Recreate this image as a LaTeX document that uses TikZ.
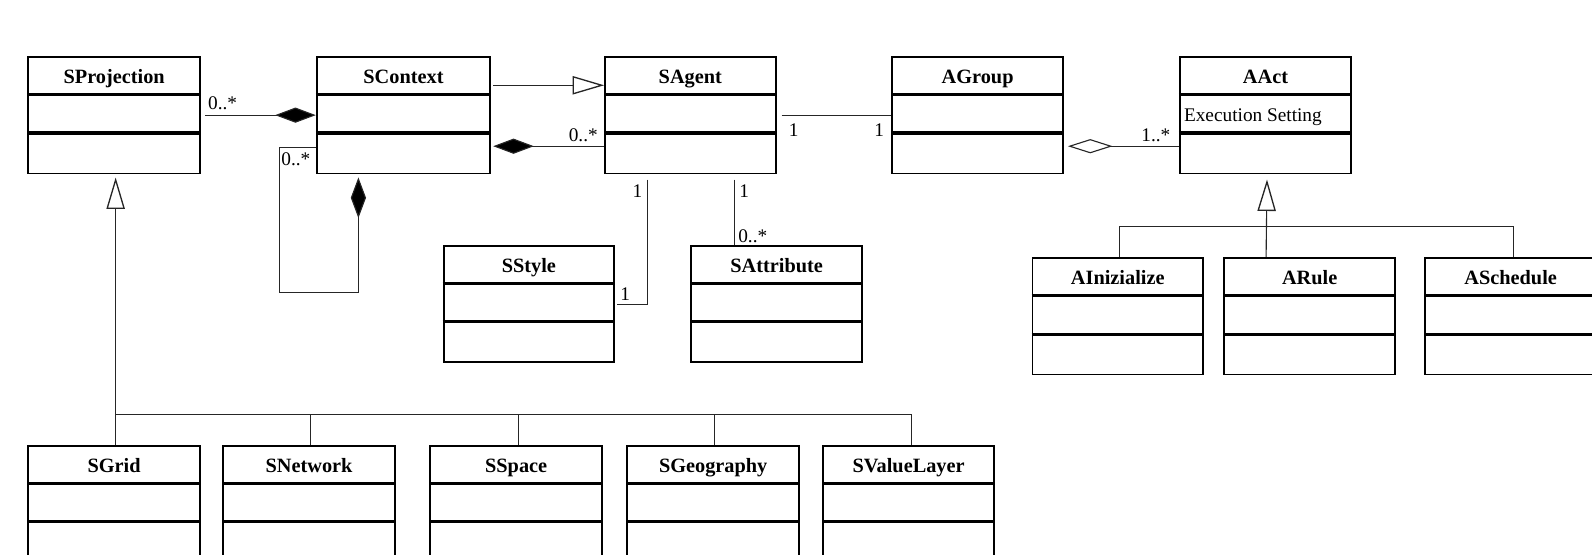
\documentclass[tikz,border=0pt]{standalone}
\usepackage{fontspec}
\setmainfont{Liberation Serif}
\usetikzlibrary{arrows.meta,calc}
\tikzset{
  x=1pt, y=-1pt,
  cls/.style={draw, line width=1.8pt, inner sep=0pt, minimum height=115pt, anchor=north west, fill=white},
  divl/.style={line width=3pt, line cap=butt},
  ttl/.style={font=\fontsize{20}{24}\selectfont\bfseries, inner sep=0pt, anchor=base},
  lbl/.style={font=\fontsize{19}{22}\selectfont, inner sep=0pt, anchor=base west},
  conn/.style={line width=1.1pt, black!85},
  comp/.style={conn, -{Diamond[length=40pt,width=15pt,fill=black]}},
  aggr/.style={conn, -{Diamond[open,length=44pt,width=14pt,fill=white]}},
  gen/.style={conn, -{Triangle[open,length=31pt,width=18pt,fill=white,line width=1.3pt]}}
}
\newcommand\umlclass[5]{%
  \node[cls, minimum width=#4pt] (#1) at (#2,#3) {};
  \node[ttl] (#1-t) at ($(#1.north)+(0,27)$) {#5};
  \draw[divl] ($(#1.north west)+(0,38)$) -- ($(#1.north east)+(0,38)$);
  \draw[divl] ($(#1.north west)+(0,76)$) -- ($(#1.north east)+(0,76)$);
}
\begin{document}
\begin{tikzpicture}
\useasboundingbox (0,0) rectangle (1568,546);
% top row
\umlclass{sproj}{27}{55}{169}{SProjection}
\umlclass{sctx}{311}{55}{171}{SContext}
\umlclass{sagent}{595}{55}{168}{SAgent}
\umlclass{agroup}{878}{55}{168}{AGroup}
\umlclass{aact}{1161}{55}{169}{AAct}
% middle
\umlclass{sstyle}{436}{241}{168}{SStyle}
\umlclass{sattr}{680}{241}{168}{SAttribute}
\umlclass{ainit}{1016}{253}{168}{AInizialize}
\umlclass{arule}{1205}{253}{168}{ARule}
\umlclass{asched}{1403}{253}{168}{ASchedule}
% bottom
\umlclass{sgrid}{27}{438}{169}{SGrid}
\umlclass{snet}{219}{438}{169}{SNetwork}
\umlclass{sspace}{423}{438}{169}{SSpace}
\umlclass{sgeo}{617}{438}{169}{SGeography}
\umlclass{svl}{810}{438}{168}{SValueLayer}

\node[lbl] (exec) at ($(aact.north west)+(5,65)$) {Execution Setting};

% SContext -> SAgent generalization
\draw[gen] ($(sctx.north east)+(2,29)$) -- ($(sagent.north west)+(0,29)$);
% SProjection - SContext composition
\draw[comp] ($(sproj.east)+(4,0)$) -- (sctx.west);
\node[lbl] (l1) at ($(sproj.north east)+(7,53)$) {0..*};
% SAgent - SContext composition
\draw[comp] ($(sagent.north west)+(0,89)$) -- ($(sctx.north east)+(2,89)$);
\node[lbl] (l2) at ($(sagent.north west)+(-35,84)$) {0..*};
% SContext self composition
\draw[comp] ($(sctx.north west)+(0,90)$) -- ++(-36,0) -- ++(0,143) -| ($(sctx.south west)+(42,3)$);
\node[lbl] (l3) at ($(sctx.north west)+(-34,108)$) {0..*};
% SAgent - AGroup
\draw[conn] ($(sagent.north east)+(5,59)$) -- ($(agroup.north west)+(0,59)$);
\node[lbl] (l4) at ($(sagent.north east)+(12,79)$) {1};
\node[lbl] (l5) at ($(agroup.north west)+(-17,79)$) {1};
% AGroup - AAct aggregation
\draw[aggr] ($(aact.north west)+(0,89)$) -- ($(agroup.north east)+(4,89)$);
\node[lbl] (l6) at ($(aact.north west)+(-37,84)$) {1..*};
% SAgent - SStyle
\draw[conn] ($(sagent.south west)+(43,5)$) |- ($(sstyle.north east)+(2,59)$);
\node[lbl] (l7) at ($(sagent.south west)+(28,23)$) {1};
\node[lbl] (l8) at ($(sstyle.north east)+(5,55)$) {1};
% SAgent - SAttribute
\draw[conn] ($(sagent.south west)+(128,5)$) -- ($(sattr.north west)+(43,0)$);
\node[lbl] (l9) at ($(sagent.south west)+(133,23)$) {1};
\node[lbl] (l10) at ($(sattr.north west)+(47,-2)$) {0..*};
% AAct generalization
\draw[gen] ($(arule.north west)+(42,0)$) -- ($(aact.south)+(1.5,5)$);
\draw[conn] ($(ainit.north)+(2,0)$) -- ++(0,-30) -| ($(asched.north)+(3,0)$);
% SProjection generalization
\draw[gen] ($(sgrid.north)+(1.5,0)$) -- ($(sproj.south)+(1.5,3)$);
\draw[conn] ($(sgrid.north)+(1.5,-30)$) -| ($(svl.north)+(3,0)$);
\draw[conn] ($(snet.north)+(1.5,0)$) -- ++(0,-30);
\draw[conn] ($(sspace.north)+(2.5,0)$) -- ++(0,-30);
\draw[conn] ($(sgeo.north)+(1.5,0)$) -- ++(0,-30);
\end{tikzpicture}
\end{document}
